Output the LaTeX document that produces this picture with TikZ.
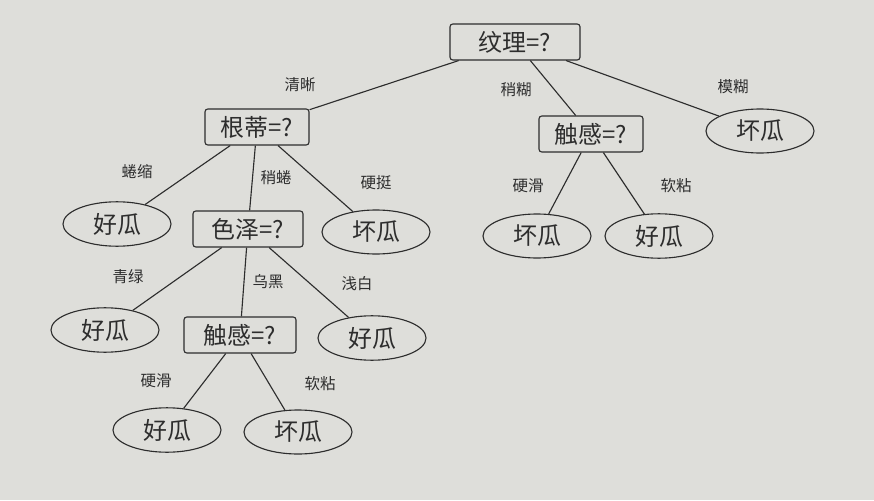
\documentclass[tikz,border=0pt]{standalone}
\usepackage{fontspec}
\newfontfamily\cjk{Noto Sans CJK SC}
\usetikzlibrary{shapes.geometric}
\definecolor{paper}{RGB}{222,222,218}
\definecolor{ink}{RGB}{45,45,45}
\tikzset{
  test/.style={rectangle, draw=ink, rounded corners=2pt, thick, minimum height=0.9cm, minimum width=2.6cm, font=\cjk\fontsize{17}{20}\selectfont, text=ink},
  leaf/.style={ellipse, draw=ink, thick, minimum height=0.95cm, minimum width=2.7cm, font=\cjk\fontsize{17}{20}\selectfont, text=ink},
  lbl/.style={font=\cjk\fontsize{11}{13}\selectfont, text=ink},
  edge/.style={draw=ink, thick}
}
\begin{document}
\begin{tikzpicture}[x=0.025cm, y=-0.025cm]
  % Background
  \fill[paper] (0,0) rectangle (874,500);
  \useasboundingbox (0,0) rectangle (874,500);
  % Nodes
  \node (root) [test, minimum width=3.25cm] at (515,42) {纹理=?};
  \node (gd) [test] at (257,127) {根蒂=?};
  \node (cg1) [test] at (591,134) {触感=?};
  \node (bad1) [leaf] at (760,131) {坏瓜};
  \node (good1) [leaf] at (117,224) {好瓜};
  \node (sz) [test, minimum width=2.75cm] at (248,229) {色泽=?};
  \node (bad2) [leaf] at (376,232) {坏瓜};
  \node (bad3) [leaf] at (537,236) {坏瓜};
  \node (good2) [leaf] at (659,236) {好瓜};
  \node (good3) [leaf] at (105,330) {好瓜};
  \node (cg2) [test, minimum width=2.8cm] at (240,335) {触感=?};
  \node (good4) [leaf] at (372,338) {好瓜};
  \node (good5) [leaf] at (167,430) {好瓜};
  \node (bad4) [leaf] at (298,432) {坏瓜};
  % Arrows
  \draw[edge] (root) -- (gd);
  \draw[edge] (root) -- (cg1);
  \draw[edge] (root) -- (bad1);
  \draw[edge] (gd) -- (good1);
  \draw[edge] (gd) -- (sz);
  \draw[edge] (gd) -- (bad2);
  \draw[edge] (cg1) -- (bad3);
  \draw[edge] (cg1) -- (good2);
  \draw[edge] (sz) -- (good3);
  \draw[edge] (sz) -- (cg2);
  \draw[edge] (sz) -- (good4);
  \draw[edge] (cg2) -- (good5);
  \draw[edge] (cg2) -- (bad4);
  % Labels
  \node (l1) [lbl] at (300,85) {清晰};
  \node (l2) [lbl] at (516,90) {稍糊};
  \node (l3) [lbl] at (733,87) {模糊};
  \node (l4) [lbl] at (137,172) {蜷缩};
  \node (l5) [lbl] at (276,178) {稍蜷};
  \node (l6) [lbl] at (376,183) {硬挺};
  \node (l7) [lbl] at (528,186) {硬滑};
  \node (l8) [lbl] at (676,186) {软粘};
  \node (l9) [lbl] at (128,277) {青绿};
  \node (l10) [lbl] at (268,282) {乌黑};
  \node (l11) [lbl] at (357,284) {浅白};
  \node (l12) [lbl] at (156,381) {硬滑};
  \node (l13) [lbl] at (320,384) {软粘};
\end{tikzpicture}
\end{document}
